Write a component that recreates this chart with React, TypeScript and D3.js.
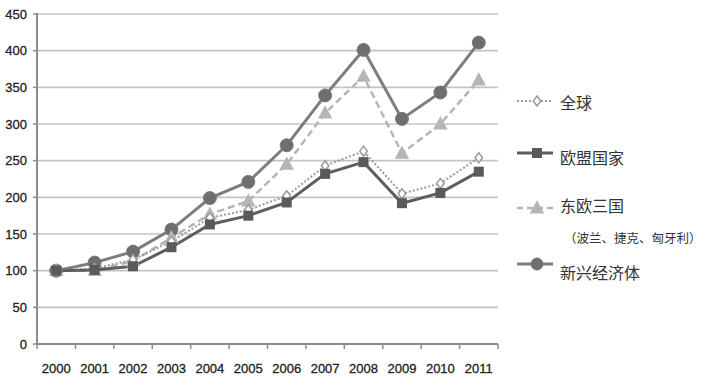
import React from "react";
import * as d3 from "d3";

const years = ["2000","2001","2002","2003","2004","2005","2006","2007","2008","2009","2010","2011"];
const globalVals = [100, 103, 115, 140, 172, 183, 202, 243, 263, 205, 219, 254];
const euVals = [100, 101, 106, 132, 163, 175, 193, 232, 248, 192, 206, 235];
const eastVals = [100, 100, 113, 145, 177, 195, 245, 315, 365, 260, 300, 360];
const emergingVals = [100, 111, 126, 156, 199, 221, 271, 339, 401, 307, 343, 411];
const yTicks = [0, 50, 100, 150, 200, 250, 300, 350, 400, 450];

const W = 703, H = 377;
const left = 37, right = 498, top = 14, bottom = 344;

export default function App() {
  const x = d3.scaleBand<string>().domain(years).range([left, right]);
  const y = d3.scaleLinear().domain([0, 450]).range([bottom, top]);
  const cx = (yr: string) => (x(yr) as number) + x.bandwidth() / 2;
  const line = (vals: number[]) =>
    d3.line<number>().x((_, i) => cx(years[i])).y((v) => y(v))(vals) as string;

  const numFont = "'Liberation Sans', Arial, sans-serif";
  const cjkFont = "'Noto Sans CJK SC', sans-serif";

  const diamond = (px: number, py: number, s: number, k: string) => (
    <path key={k} d={`M${px},${py - s}L${px + s * 0.75},${py}L${px},${py + s}L${px - s * 0.75},${py}Z`} fill="#fff" stroke="#9a9a9a" strokeWidth={1.5} />
  );
  const square = (px: number, py: number, s: number, k: string) => (
    <rect key={k} x={px - s / 2} y={py - s / 2} width={s} height={s} fill="#5a5a5a" />
  );
  const tri = (px: number, py: number, s: number, k: string) => (
    <path key={k} d={`M${px},${py - s * 0.65}L${px + s * 0.6},${py + s * 0.45}L${px - s * 0.6},${py + s * 0.45}Z`} fill="#b5b5b5" />
  );
  const circ = (px: number, py: number, r: number, k: string) => (
    <circle key={k} cx={px} cy={py} r={r} fill="#6e6e6e" stroke="#7a7a7a" strokeWidth={1} />
  );

  const lx1 = 517, lx2 = 553, lm = 537;
  return (
    <svg width={W} height={H} style={{ position: "absolute", left: 0, top: 0, background: "#fff" }}>
      {/* gridlines */}
      {yTicks.filter((t) => t > 0).map((t) => (
        <line key={t} x1={left} x2={right} y1={y(t)} y2={y(t)} stroke="#c4c4c4" strokeWidth={1.6} />
      ))}
      {/* y axis */}
      <line x1={left} x2={left} y1={top - 1} y2={bottom} stroke="#8c8c8c" strokeWidth={2} />
      {yTicks.map((t) => (
        <g key={"yt" + t}>
          <line x1={left - 4} x2={left} y1={y(t)} y2={y(t)} stroke="#8c8c8c" strokeWidth={1.5} />
          <text x={27} y={y(t)} dy="0.35em" textAnchor="end" fontSize={13} fontFamily={numFont} fill="#222" stroke="#222" strokeWidth={0.3}>{t}</text>
        </g>
      ))}
      {/* x axis */}
      <line x1={left} x2={right} y1={bottom} y2={bottom} stroke="#8c8c8c" strokeWidth={2} />
      {years.map((yr, i) => (
        <g key={"xt" + yr}>
          <line x1={(x(yr) as number) + x.bandwidth()} x2={(x(yr) as number) + x.bandwidth()} y1={bottom} y2={bottom + 5} stroke="#8c8c8c" strokeWidth={1.5} />
          {i === 0 && <line x1={left} x2={left} y1={bottom} y2={bottom + 5} stroke="#8c8c8c" strokeWidth={1.5} />}
          <text x={cx(yr)} y={368} dy="0.35em" textAnchor="middle" fontSize={13} fontFamily={numFont} fill="#222" stroke="#222" strokeWidth={0.3}>{yr}</text>
        </g>
      ))}

      {/* series */}
      <path d={line(emergingVals)} fill="none" stroke="#7d7d7d" strokeWidth={3} />
      <path d={line(eastVals)} fill="none" stroke="#b5b5b5" strokeWidth={2.5} strokeDasharray="7,4" />
      <path d={line(globalVals)} fill="none" stroke="#9a9a9a" strokeWidth={2} strokeDasharray="2,2" />
      <path d={line(euVals)} fill="none" stroke="#5e5e5e" strokeWidth={3} />

      {emergingVals.map((v, i) => circ(cx(years[i]), y(v), 6.5, "c" + i))}
      {eastVals.map((v, i) => tri(cx(years[i]), y(v), 12, "t" + i))}
      {globalVals.map((v, i) => diamond(cx(years[i]), y(v), 5, "d" + i))}
      {euVals.map((v, i) => square(cx(years[i]), y(v), 10, "s" + i))}

      {/* legend */}
      <g>
        <line x1={lx1} x2={lx2} y1={101} y2={101} stroke="#9a9a9a" strokeWidth={2} strokeDasharray="2,2" />
        {diamond(lm, 101, 5, "ld")}
        <text x={560} y={103} dy="0.35em" fontSize={16} fontFamily={cjkFont} fill="#333">全球</text>

        <line x1={lx1} x2={lx2} y1={153} y2={153} stroke="#5e5e5e" strokeWidth={3} />
        {square(lm, 153, 10, "ls")}
        <text x={560} y={158} dy="0.35em" fontSize={16} fontFamily={cjkFont} fill="#333">欧盟国家</text>

        <line x1={lx1} x2={lx2} y1={208} y2={208} stroke="#b5b5b5" strokeWidth={2.5} strokeDasharray="6,4" />
        {tri(lm, 208, 12, "lt")}
        <text x={560} y={206} dy="0.35em" fontSize={16} fontFamily={cjkFont} fill="#333">东欧三国</text>
        <text x={564} y={239} dy="0.35em" fontSize={12.5} fontFamily={cjkFont} fill="#333" letterSpacing={0}>（波兰、捷克、匈牙利）</text>

        <line x1={lx1} x2={lx2} y1={264} y2={264} stroke="#7d7d7d" strokeWidth={3} />
        {circ(lm, 264, 6, "lc")}
        <text x={560} y={273} dy="0.35em" fontSize={16} fontFamily={cjkFont} fill="#333">新兴经济体</text>
      </g>
    </svg>
  );
}
